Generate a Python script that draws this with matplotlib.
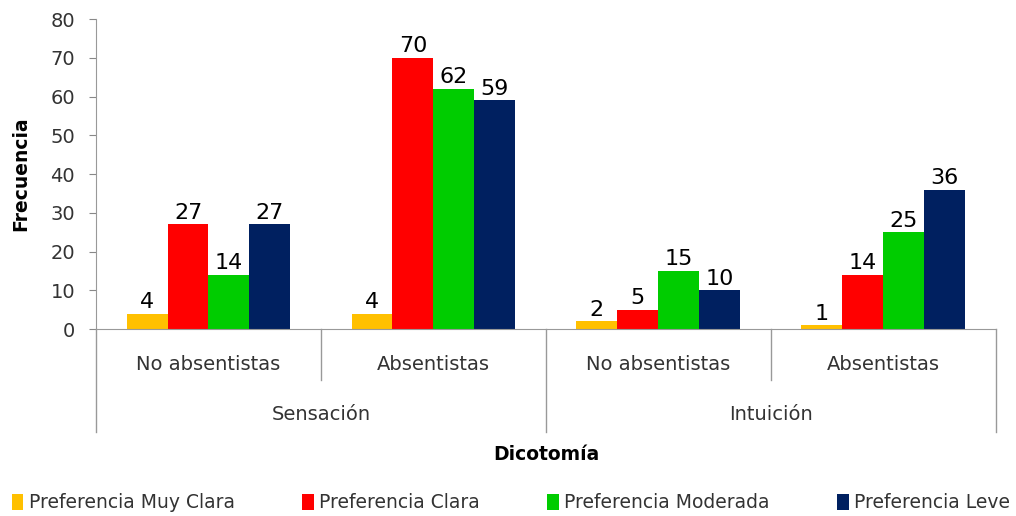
import matplotlib.pyplot as plt
import numpy as np

# Data
subgroups = ['No absentistas', 'Absentistas', 'No absentistas', 'Absentistas']
groups = ['Sensación', 'Intuición']
series = ['Preferencia Muy Clara', 'Preferencia Clara', 'Preferencia Moderada', 'Preferencia Leve']
muy_clara = [4, 4, 2, 1]
clara = [27, 70, 5, 14]
moderada = [14, 62, 15, 25]
leve = [27, 59, 10, 36]
colors = ['#FFC000', '#FF0000', '#00CC00', '#002060']

values = [muy_clara, clara, moderada, leve]
x = np.arange(len(subgroups))
w = 0.182

fig = plt.figure(figsize=(10.16, 5.16), dpi=100)
ax = fig.add_axes([0.0945, 0.3624, 0.8855, 0.6006])

for i, (vals, name, col) in enumerate(zip(values, series, colors)):
    pos = x + (i - 1.5) * w
    bars = ax.bar(pos, vals, w, color=col, label=name)
    for b, v in zip(bars, vals):
        ax.text(b.get_x() + b.get_width() / 2, v + 0.4, str(v), ha='center', va='bottom',
                fontsize=16, color='black')

ax.set_xlim(-0.5, len(subgroups) - 0.5)
ax.set_ylim(0, 80)
ax.set_yticks(range(0, 81, 10))
ax.tick_params(axis='y', colors='#888888', labelcolor='#333333', labelsize=14, length=5,
               direction='out', pad=10)
ax.set_xticks([])
for s in ['top', 'right']:
    ax.spines[s].set_visible(False)
for s in ['left', 'bottom']:
    ax.spines[s].set_color('#999999')
ax.set_ylabel('Frecuencia', fontsize=13.5, fontweight='bold')
ax.yaxis.set_label_coords(-0.073, 0.5)

# Hierarchical x-axis
tr = ax.get_xaxis_transform()
ax.plot([-0.5, -0.5], [0, -0.332], transform=tr, color='#999999', lw=1, clip_on=False)
for d in [0.5, 2.5]:
    ax.plot([d, d], [0, -0.1645], transform=tr, color='#999999', lw=1, clip_on=False)
for d in [1.5, 3.5]:
    ax.plot([d, d], [0, -0.332], transform=tr, color='#999999', lw=1, clip_on=False)
for xi, lab in zip(x, subgroups):
    ax.text(xi, -0.116, lab, transform=tr, ha='center', va='center', fontsize=14, color='#333333')
for gi, lab in enumerate(groups):
    ax.text(gi * 2 + 0.5, -0.277, lab, transform=tr, ha='center', va='center', fontsize=14, color='#333333')

fig.text(0.5374, (516 - 455) / 516, 'Dicotomía', ha='center', va='center', fontsize=13.5, fontweight='bold')

fig.legend(loc='center', bbox_to_anchor=(0.503, (516 - 503) / 516), ncol=4, frameon=False,
           fontsize=13.5, handlelength=0.6, handleheight=0.9, handletextpad=0.3, columnspacing=3.6,
           labelcolor='#333333')

plt.savefig('out.png', dpi=100)
